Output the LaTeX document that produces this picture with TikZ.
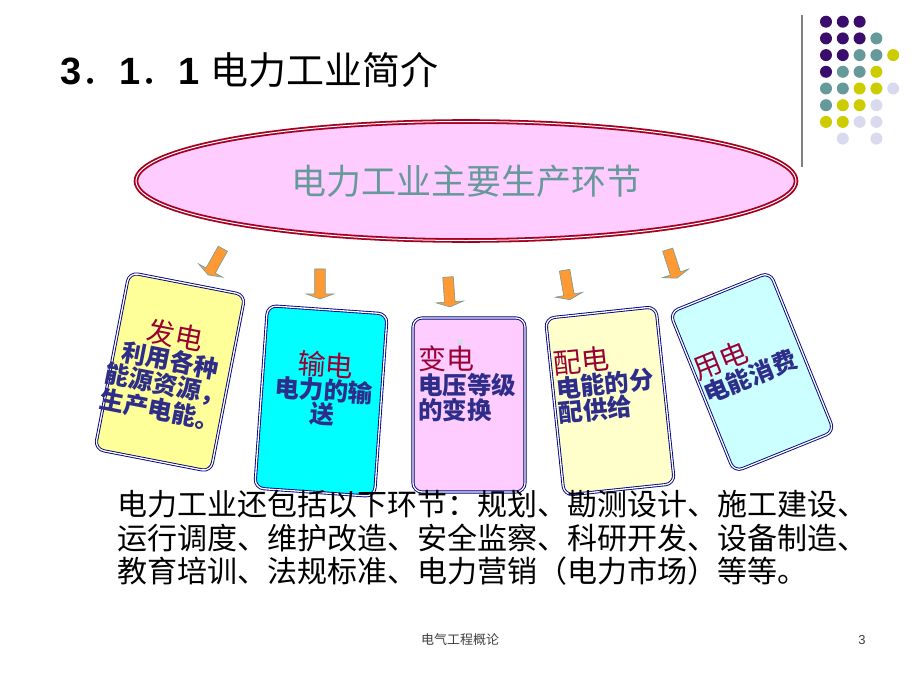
\documentclass[tikz,border=0pt]{standalone}
\usepackage{fontspec}
\setmainfont{Liberation Sans}
\newfontfamily\cjk{Noto Sans CJK SC}
\usetikzlibrary{shapes.geometric,shapes.arrows}

\definecolor{dotpurple}{HTML}{3A0C6C}
\definecolor{dotteal}{HTML}{669999}
\definecolor{dotyellow}{HTML}{CCCC00}
\definecolor{dotlav}{HTML}{DADAEE}
\definecolor{ellred}{HTML}{A50021}
\definecolor{ellpink}{HTML}{FFCCFF}
\definecolor{ellteal}{HTML}{669999}
\definecolor{arroworange}{HTML}{FF9933}
\definecolor{arrowteal}{HTML}{6E9E9E}
\definecolor{cardnavy}{HTML}{000080}
\definecolor{cardyellow}{HTML}{FFFF99}
\definecolor{cardcyan}{HTML}{00FFFF}
\definecolor{cardpink}{HTML}{FFCCFF}
\definecolor{cardcream}{HTML}{FFFFCC}
\definecolor{cardice}{HTML}{CCFFFF}
\definecolor{headred}{HTML}{990033}
\definecolor{bodynavy}{HTML}{2E2E8A}
\definecolor{footgray}{HTML}{404040}

% card texts: red heading, navy body
\newcommand\cardhead[1]{{\fontsize{28}{30}\selectfont\color{headred}#1}}
\newcommand\cardbody[1]{{\fontsize{24.5}{26}\selectfont\bfseries\color{bodynavy}#1}}

\begin{document}
\begin{tikzpicture}[x=1pt,y=-1pt,
    card/.style={draw=cardnavy, line width=0.9pt, double=white, double distance=1.3pt,
                 rounded corners=9pt, inner sep=0pt},
    cardtxt/.style={inner sep=0pt, font=\cjk},
    downarrow/.style={single arrow, fill=arroworange, draw=arrowteal, line width=0.6pt,
                      minimum height=30, inner sep=5pt, single arrow head extend=8.5pt,
                      single arrow tip angle=140}
  ]

    % Page frame
    \useasboundingbox (0,0) rectangle (920,690);

    % Title
    \node[anchor=west, inner sep=0pt, font=\fontsize{38}{40}\selectfont] (title) at (60,70)
        {{\bfseries 3}{\cjk ．}{\bfseries 1}{\cjk ．}{\bfseries 1} {\cjk 电力工业简介}};

    % Corner decoration: rule and dots
    \draw[gray, line width=1.2pt] (802,15) -- (802,167);
    \foreach \c/\r/\col in {0/0/dotpurple,1/0/dotpurple,2/0/dotpurple,
                            0/1/dotpurple,1/1/dotpurple,2/1/dotpurple,3/1/dotteal,
                            0/2/dotpurple,1/2/dotpurple,2/2/dotteal,3/2/dotteal,4/2/dotyellow,
                            0/3/dotpurple,1/3/dotteal,2/3/dotteal,3/3/dotyellow,
                            0/4/dotteal,1/4/dotteal,2/4/dotyellow,3/4/dotyellow,4/4/dotlav,
                            0/5/dotteal,1/5/dotyellow,2/5/dotyellow,3/5/dotlav,
                            0/6/dotyellow,1/6/dotyellow,2/6/dotlav,3/6/dotlav,
                            1/7/dotlav,3/7/dotlav}
        \fill[\col] ({826+16.8*\c},{21.7+16.7*\r}) circle (6pt);

    % Main ellipse
    \node[ellipse, draw=ellred, line width=1.8pt, double=white, double distance=1pt,
          fill=ellpink, minimum width=660, minimum height=119, inner sep=0pt,
          text=ellteal, font=\cjk\fontsize{35}{37}\selectfont] (main) at (466,181)
        {电力工业主要生产环节};

    % Orange arrows
    \node[downarrow, rotate=-119] (arrfa)   at (216,261) {};
    \node[downarrow, rotate=-90]  (arrshu)  at (320,283) {};
    \node[downarrow, rotate=-86]  (arrbian) at (449,291) {};
    \node[downarrow, rotate=-80]  (arrpei)  at (567,284) {};
    \node[downarrow, rotate=-72]  (arryong) at (672,263) {};

    % Cards
    \node[card, fill=cardyellow, minimum width=118, minimum height=180, rotate=-11] (fadian)   at (170,372) {};
    \node[card, fill=cardcyan,   minimum width=120, minimum height=183, rotate=-4]  (shudian)  at (321,401) {};
    \node[card, fill=cardpink,   minimum width=112, minimum height=174]             (biandian) at (469,405) {};
    \node[card, fill=cardcream,  minimum width=111, minimum height=178, rotate=6]   (peidian)  at (610,401) {};
    \node[card, fill=cardice,    minimum width=108, minimum height=172, rotate=22]  (yongdian) at (752,372) {};

    % small mark on the third card
    \fill[dotlav] (457,339) rectangle (463,345);

    % Card texts
    \node[cardtxt, align=center, rotate=-11] (fatxt) at (168,372)
        {\cardhead{发电}\\ \cardbody{利用各种}\\ \cardbody{能源资源，}\\ \cardbody{生产电能。}};
    \node[cardtxt, align=center, rotate=-4] (shutxt) at (324,389)
        {\cardhead{输电}\\ \cardbody{电力的输}\\ \cardbody{送}};
    \node[cardtxt, align=left, anchor=north west] (biantxt) at (418,346)
        {\cardhead{变电}\\ \cardbody{电压等级}\\ \cardbody{的变换}};
    \node[cardtxt, align=left, anchor=north west, rotate=6] (peitxt) at (552,351)
        {\cardhead{配电}\\ \cardbody{电能的分}\\ \cardbody{配供给}};
    \node[cardtxt, align=left, rotate=22] (yongtxt) at (745,364)
        {\cardhead{用电}\\ \cardbody{电能消费}};

    % Other links of the power industry
    \node[anchor=north west, inner sep=0pt, align=left,
          font=\cjk\fontsize{30}{33.5}\selectfont] (others) at (117,490)
        {电力工业还包括以下环节：规划、勘测设计、施工建设、\\
         运行调度、维护改造、安全监察、科研开发、设备制造、\\
         教育培训、法规标准、电力营销（电力市场）等等。};

    % Footer
    \node[text=footgray, font=\cjk\fontsize{13}{15}\selectfont] (course) at (460,640) {电气工程概论};
    \node[text=footgray, font=\fontsize{13}{15}\selectfont] (pageno) at (862,640) {3};

\end{tikzpicture}
\end{document}
